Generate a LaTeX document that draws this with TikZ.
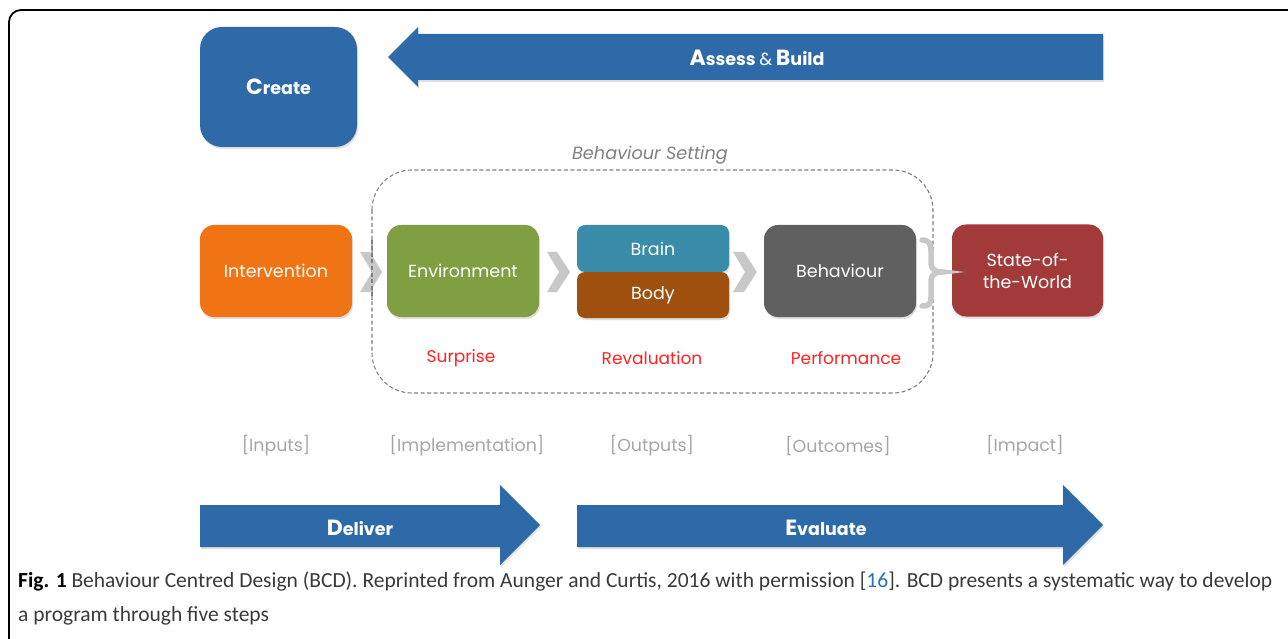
\documentclass[tikz,border=0pt]{standalone}
\usepackage{fontspec}
\setmainfont{Poppins}
\newfontfamily\capfont{Carlito}
\usetikzlibrary{shadows}
\definecolor{bcdblue}{HTML}{2E6AA8}
\definecolor{bcdorange}{HTML}{F07414}
\definecolor{bcdgreen}{HTML}{7F9F42}
\definecolor{bcdteal}{HTML}{3A8DA8}
\definecolor{bcdbrown}{HTML}{A0500E}
\definecolor{bcdgray}{HTML}{606060}
\definecolor{bcdred}{HTML}{A33A3A}
\definecolor{chevgray}{HTML}{C8C8C8}
\definecolor{labred}{HTML}{FF2222}
\definecolor{labgray}{HTML}{A6A6A6}
\definecolor{setgray}{HTML}{808080}
\definecolor{captext}{HTML}{3A3A3A}
\definecolor{linkblue}{HTML}{2A6EBB}
\begin{document}
\begin{tikzpicture}[x=1pt,y=-1pt,
  shadowed/.style={drop shadow={opacity=0.25,shadow xshift=1pt,shadow yshift=-2pt}},
  stepbox/.style={shadowed,rounded corners=14pt,minimum width=152pt,minimum height=92pt,
    inner sep=0pt,text=white,align=center,font=\fontsize{17.5}{22}\selectfont},
  halfbox/.style={shadowed,rounded corners=8pt,minimum width=152pt,minimum height=46pt,
    inner sep=0pt,text=white,font=\fontsize{17.5}{20}\selectfont},
  bigarrow/.style={fill=bcdblue,shadowed},
  arrowtext/.style={text=white,font=\bfseries\fontsize{17.5}{20}\selectfont},
  chev/.style={fill=chevgray},
  redlab/.style={text=labred,font=\fontsize{17}{20}\selectfont},
  graylab/.style={text=labgray,font=\fontsize{17.4}{20}\selectfont},
  caption/.style={text=captext,font=\capfont\fontsize{21.5}{24}\selectfont,inner sep=0pt}
]
\useasboundingbox (0,0) rectangle (1288,639);
% frame
\draw[line width=1.8pt,black,rounded corners=12pt] (9,645) -- (9,10) -- (1295,10);

% Create box
\node[shadowed,fill=bcdblue,rounded corners=22pt,minimum width=157pt,minimum height=120pt,
  text=white,font=\bfseries] (create) at (278.5,87)
  {{\fontsize{22}{22}\selectfont C}{\fontsize{17.5}{20}\selectfont reate}};

% Assess & Build arrow
\fill[bigarrow] (1103,34) -- (418,34) -- (418,27) -- (388,57) -- (418,87) -- (418,80) -- (1103,80) -- cycle;
\node[arrowtext] (assess) at (757,58)
  {{\fontsize{22}{22}\selectfont A}ssess {\mdseries\&} {\fontsize{22}{22}\selectfont B}uild};

% Behaviour setting
\draw[setgray,line width=1.1pt,dash pattern=on 4pt off 2.5pt,rounded corners=40pt]
  (372,170) rectangle (933,393);
\node[text=setgray,font=\itshape\fontsize{17.7}{20}\selectfont] (setting) at (650,155) {Behaviour Setting};

% chevrons
\fill[chev] (360,252) -- (370,252) -- (382,272) -- (370,292) -- (360,292) -- (372,272) -- cycle;
\fill[chev] (547,252) -- (557,252) -- (570,272) -- (557,292) -- (547,292) -- (559,272) -- cycle;
\fill[chev] (733,252) -- (744,252) -- (757,272) -- (744,292) -- (733,292) -- (745,272) -- cycle;
\draw[setgray,line width=1.1pt,dash pattern=on 4pt off 2.5pt] (372,240) -- (372,300);

% boxes
\node[stepbox,fill=bcdorange] (interv) at (276,271) {Intervention};
\node[stepbox,fill=bcdgreen] (env) at (463,271) {Environment};
\node[halfbox,fill=bcdteal,minimum height=47pt] (brain) at (653,248.5) {Brain};
\node[halfbox,fill=bcdbrown] (body) at (653,295) {Body};
\node[stepbox,fill=bcdgray] (behav) at (840,271) {Behaviour};
\node[stepbox,fill=bcdred,minimum width=151pt] (world) at (1027.5,270.5) {State-of-\\the-World};

% brace
\draw[chevgray,line width=5.5pt,line cap=round]
  (922,240) .. controls (929,240) and (931,244) .. (931,251) -- (931,263)
  .. controls (931,269) and (935,272) .. (942,272)
  .. controls (935,272) and (931,275) .. (931,281) -- (931,297)
  .. controls (931,304) and (929,306) .. (922,306);

% red labels
\node[redlab] (surprise) at (461,358) {Surprise};
\node[redlab] (reval) at (652,358) {Revaluation};
\node[redlab] (perf) at (846,358) {Performance};

% gray labels
\node[graylab] (inputs) at (276,446) {[Inputs]};
\node[graylab] (impl) at (467,446) {[Implementation]};
\node[graylab] (outputs) at (652,446) {[Outputs]};
\node[graylab] (outcomes) at (838,446) {[Outcomes]};
\node[graylab] (impact) at (1025,446) {[Impact]};

% Deliver / Evaluate arrows
\fill[bigarrow] (200,505) -- (500,505) -- (500,485) -- (540,525) -- (500,565) -- (500,547) -- (200,547) -- cycle;
\fill[bigarrow] (577,505) -- (1063,505) -- (1063,485) -- (1103,525) -- (1063,565) -- (1063,547) -- (577,547) -- cycle;
\node[arrowtext] (deliver) at (360,528) {{\fontsize{22}{22}\selectfont D}eliver};
\node[arrowtext] (evaluate) at (826,528) {{\fontsize{22}{22}\selectfont E}valuate};

% caption
\node[caption,anchor=base west] (cap1) at (18,587)
  {{\bfseries\color{black}Fig. 1} Behaviour Centred Design (BCD). Reprinted from Aunger and Curtis, 2016 with permission [{\color{linkblue}16}]. BCD presents a systematic way to develop};
\node[caption,anchor=base west] (cap2) at (18,621) {a program through five steps};
\end{tikzpicture}
\end{document}
